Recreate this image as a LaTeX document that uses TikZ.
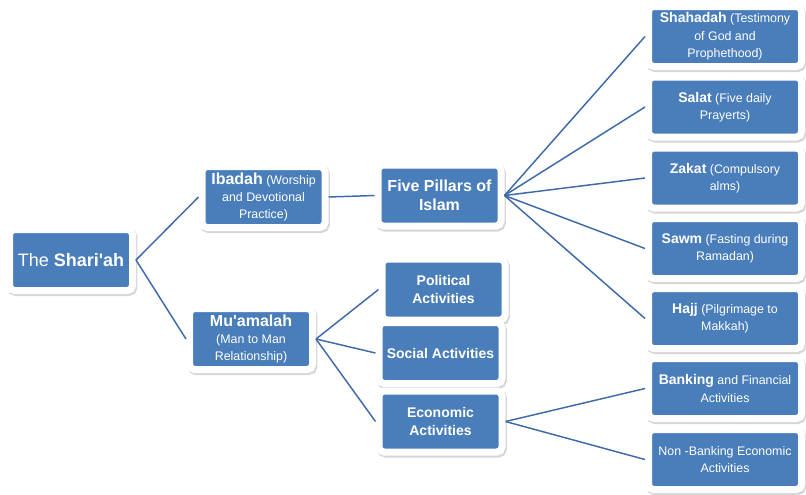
\documentclass[tikz,border=0pt]{standalone}
\usepackage{fontspec}
\setmainfont{Liberation Sans}[Ligatures=TeXOff]
\usepackage{tikz}
\usetikzlibrary{positioning}
\definecolor{boxblue}{RGB}{74,126,187}
\definecolor{linkblue}{RGB}{62,106,170}
\tikzset{
  blk/.style={draw=white,fill=boxblue,line width=5.25pt,rounded corners=3.75pt,
    text=white,align=center,inner sep=1pt,minimum width=92.25pt,minimum height=45.75pt,
    font=\fontsize{9.3}{13}\selectfont,
    preaction={draw=black!16,fill=black!16,transform canvas={xshift=1pt,yshift=-1.5pt}}},
  wideblk/.style={blk,minimum width=114.75pt,minimum height=45pt},
  link/.style={draw=linkblue,line width=1.1pt}
}
\newcommand{\ttl}[1]{{\fontsize{12}{13}\selectfont\bfseries #1}}
\newcommand{\sttl}[1]{{\fontsize{10.5}{13}\selectfont\bfseries #1}}

\begin{document}
\begin{tikzpicture}[x=0.75pt,y=-0.75pt]
    \useasboundingbox (0,0) rectangle (806,494);
    % left part
    \node[blk] (sharia) at (71,260) {\fontsize{13.5}{15}\selectfont The \textbf{Shari'ah}};
    \node[blk] (ibadah) at (263.5,197) {\ttl{Ibadah} (Worship\\and Devotional\\Practice)};
    \node[blk] (muamalah) at (251,339) {\ttl{Mu'amalah}\\(Man to Man\\Relationship)};
    \node[blk,font=\fontsize{12}{14}\selectfont\bfseries] (pillars) at (439.5,195.5) {Five Pillars of\\Islam};
    \node[blk,font=\fontsize{10.5}{13}\selectfont\bfseries] (political) at (443.5,289.5) {Political\\Activities};
    \node[blk,font=\fontsize{10.5}{13}\selectfont\bfseries] (social) at (440.5,353) {Social Activities};
    \node[blk,font=\fontsize{10.5}{13}\selectfont\bfseries] (economic) at (440.5,421.5) {Economic\\Activities};
    % right column
    \node[wideblk] (shahadah) at (725,36.5) {\sttl{Shahadah} (Testimony\\of God and\\Prophethood)};
    \node[wideblk] (salat) at (725,107) {\sttl{Salat} (Five daily\\Prayerts)};
    \node[wideblk] (zakat) at (725,178) {\sttl{Zakat} (Compulsory\\alms)};
    \node[wideblk] (sawm) at (725,248.5) {\sttl{Sawm} (Fasting during\\Ramadan)};
    \node[wideblk] (hajj) at (725,318.5) {\sttl{Hajj} (Pilgrimage to\\Makkah)};
    \node[wideblk] (banking) at (725,388.5) {\sttl{Banking} and Financial\\Activities};
    \node[wideblk] (nonbank) at (725,459.5) {Non -Banking Economic\\Activities};
    % connectors
    \draw[link] (sharia.east) -- (ibadah.west);
    \draw[link] (sharia.east) -- (muamalah.west);
    \draw[link] (ibadah.east) -- (pillars.west);
    \draw[link] (muamalah.east) -- (political.west);
    \draw[link] (muamalah.east) -- (social.west);
    \draw[link] (muamalah.east) -- (economic.west);
    \draw[link] (pillars.east) -- (shahadah.west);
    \draw[link] (pillars.east) -- (salat.west);
    \draw[link] (pillars.east) -- (zakat.west);
    \draw[link] (pillars.east) -- (sawm.west);
    \draw[link] (pillars.east) -- (hajj.west);
    \draw[link] (economic.east) -- (banking.west);
    \draw[link] (economic.east) -- (nonbank.west);
\end{tikzpicture}
\end{document}
